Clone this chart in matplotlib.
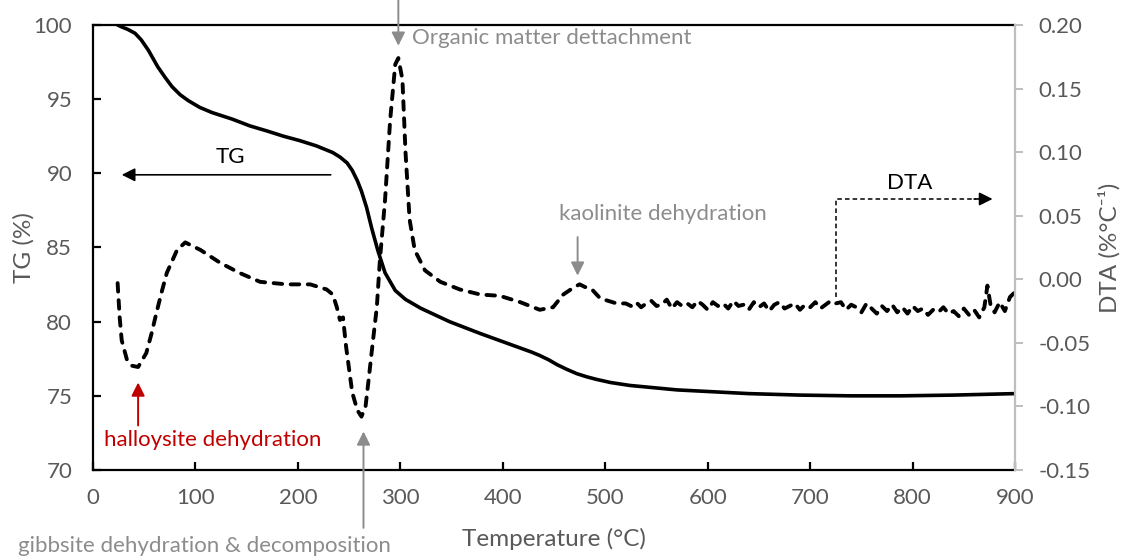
import matplotlib
matplotlib.use('Agg')
import matplotlib.pyplot as plt

plt.rcParams['font.family'] = ['Lato', 'DejaVu Sans']

# TG curve (%)
tg_temp = [24, 28, 34, 41, 47, 54, 63, 70, 77, 85, 93, 104, 116, 136, 153, 170, 186, 202, 218, 234, 241, 248,
           253, 258, 262, 267, 272, 278, 285, 295, 305, 320, 348, 378, 410, 428, 436, 445, 453, 462, 472,
           482, 492, 505, 524, 570, 640, 690, 740, 788, 840, 900]
tg = [100, 99.87, 99.7, 99.44, 99.0, 98.3, 97.2, 96.5, 95.85, 95.3, 94.9, 94.45, 94.1, 93.65, 93.2, 92.85,
      92.5, 92.2, 91.85, 91.4, 91.1, 90.7, 90.2, 89.5, 88.8, 87.7, 86.3, 84.8, 83.3, 82.1, 81.5, 80.9, 80.0,
      79.2, 78.4, 77.95, 77.72, 77.42, 77.1, 76.8, 76.5, 76.28, 76.1, 75.9, 75.7, 75.4, 75.15, 75.05, 75.0,
      75.0, 75.05, 75.15]

# DTA curve (%/°C)
dta_temp = [24, 26, 28, 33, 38, 44, 52, 57, 62, 67, 72, 82, 90, 105, 124, 143, 163, 189, 212, 228, 234, 238,
            241, 244, 247, 253, 258, 262, 266, 269, 273, 277, 280, 285, 290, 295, 298, 302, 305, 309, 314,
            324, 339, 358, 378, 397, 417, 436, 449, 459, 470, 475, 480, 487, 495, 503, 511,
            520, 525, 530, 535, 540, 545, 550, 555, 560, 565, 570, 575, 580, 585, 590, 595, 600, 605,
            610, 615, 620, 625, 630, 635, 640, 645, 650, 655, 660, 665, 670, 675, 680, 685, 690, 695,
            700, 705, 710, 715, 720, 725, 730, 735, 740, 745, 750, 755, 760, 765, 770, 775, 780, 785,
            790, 795, 800, 805, 810, 815, 820, 825, 830, 835, 840, 845, 850, 855, 860, 865, 870, 873,
            876, 880, 885, 890, 895, 900]
dta = [-0.003, -0.030, -0.048, -0.063, -0.068, -0.069, -0.058, -0.043, -0.026, -0.010, 0.005, 0.023, 0.029,
       0.023, 0.013, 0.005, -0.002, -0.004, -0.004, -0.008, -0.012, -0.022, -0.032, -0.030, -0.053, -0.089,
       -0.103, -0.108, -0.100, -0.079, -0.050, -0.022, 0.015, 0.062, 0.125, 0.169, 0.174, 0.157, 0.100, 0.047,
       0.023, 0.007, -0.002, -0.008, -0.012, -0.013, -0.018, -0.024, -0.022, -0.012, -0.006, -0.004, -0.006,
       -0.008, -0.015, -0.017, -0.019,
       -0.019, -0.021, -0.018, -0.022, -0.019, -0.017, -0.021, -0.020, -0.016, -0.023, -0.018, -0.021,
       -0.019, -0.022, -0.017, -0.020, -0.024, -0.018, -0.021, -0.019, -0.023, -0.017, -0.021, -0.020,
       -0.024, -0.018, -0.022, -0.019, -0.025, -0.020, -0.018, -0.023, -0.021, -0.019, -0.024, -0.020,
       -0.022, -0.018, -0.023, -0.020, -0.017, -0.019, -0.018, -0.024, -0.020, -0.022, -0.026, -0.019,
       -0.023, -0.027, -0.021, -0.025, -0.020, -0.026, -0.022, -0.027, -0.021, -0.025, -0.023, -0.028,
       -0.024, -0.026, -0.022, -0.027, -0.025, -0.029, -0.023, -0.028, -0.024, -0.030, -0.022, -0.005,
       -0.020, -0.026, -0.018, -0.025, -0.014, -0.010]

x_ticks = [0, 100, 200, 300, 400, 500, 600, 700, 800, 900]
tg_ticks = [70, 75, 80, 85, 90, 95, 100]
dta_ticks = [-0.15, -0.10, -0.05, 0.00, 0.05, 0.10, 0.15, 0.20]

grey = '#8c8c8c'
label_grey = '#595959'
fs = 16

fig = plt.figure(figsize=(11.29, 5.6), dpi=100)
ax = fig.add_axes([0.0824, 0.1607, 0.8167, 0.7947])
ax2 = ax.twinx()

ax.plot(tg_temp, tg, color='black', lw=2.6, solid_capstyle='round', solid_joinstyle='round')
ax2.plot(dta_temp, dta, color='black', lw=2.8, linestyle=(0, (2.2, 2.2)), dash_capstyle='round')

ax.set_xlim(0, 900)
ax.set_ylim(70, 100)
ax2.set_ylim(-0.15, 0.20)
ax.set_xticks(x_ticks)
ax.set_yticks(tg_ticks)
ax2.set_yticks(dta_ticks)
ax2.set_yticklabels(['%.2f' % v for v in dta_ticks])

for s in ['top', 'left', 'bottom']:
    ax.spines[s].set_linewidth(1.6)
    ax2.spines[s].set_visible(False)
ax.spines['right'].set_visible(False)
ax2.spines['right'].set_color('#bfbfbf')
ax2.spines['right'].set_linewidth(1.6)

ax.tick_params(axis='x', direction='in', length=6, width=1.6, labelsize=fs, labelcolor=label_grey, pad=13)
ax.tick_params(axis='y', direction='in', length=6, width=1.6, labelsize=fs, labelcolor=label_grey, pad=15)
ax2.tick_params(axis='y', direction='out', length=6, width=1.4, color='#bfbfbf', labelsize=fs,
                labelcolor=label_grey, pad=11)

ax.set_xlabel('Temperature (°C)', fontsize=17.5, color=label_grey)
ax.xaxis.set_label_coords(0.5, -0.13)
ax.set_ylabel('TG (%)', fontsize=17.5, color=label_grey)
ax.yaxis.set_label_coords(-0.063, 0.5)
ax2.set_ylabel('DTA (%°C⁻¹)', fontsize=17.5, color=label_grey)
ax2.yaxis.set_label_coords(1.09, 0.5)

# annotations
arrow_grey = dict(arrowstyle='-|>', color=grey, lw=1.4, mutation_scale=20, shrinkA=0, shrinkB=0)
arrow_red = dict(arrowstyle='-|>', color='#c00000', lw=1.4, mutation_scale=20, shrinkA=0, shrinkB=0)
arrow_black = dict(arrowstyle='-|>', color='black', lw=1.2, mutation_scale=20, shrinkA=0, shrinkB=0)

ax.annotate('', xy=(298, 98.6), xytext=(298, 101.7), arrowprops=arrow_grey, annotation_clip=False)
ax.text(311, 99.1, 'Organic matter dettachment', color=grey, fontsize=fs, ha='left', va='center')

ax.annotate('', xy=(473, 83.1), xytext=(473, 85.7), arrowprops=arrow_grey, annotation_clip=False)
ax.text(556, 87.25, 'kaolinite dehydration', color=grey, fontsize=fs, ha='center', va='center')

ax.annotate('', xy=(264, 72.6), xytext=(264, 66.1), arrowprops=arrow_grey, annotation_clip=False)
ax.text(109, 64.9, 'gibbsite dehydration & decomposition', color=grey, fontsize=fs, ha='center', va='center')

ax.annotate('', xy=(44, 75.9), xytext=(44, 73.0), arrowprops=arrow_red, annotation_clip=False)
ax.text(117, 72.0, 'halloysite dehydration', color='#c00000', fontsize=fs, ha='center', va='center')

ax.annotate('', xy=(28, 89.9), xytext=(232, 89.9), arrowprops=arrow_black)
ax.text(134, 91.1, 'TG', color='black', fontsize=fs, ha='center', va='center')

ax.plot([725, 725, 862], [81.66, 88.27, 88.27], color='black', lw=1.1, linestyle=(0, (3, 2)))
ax.annotate('', xy=(878, 88.27), xytext=(860, 88.27), arrowprops=arrow_black)
ax.text(797, 89.35, 'DTA', color='black', fontsize=fs, ha='center', va='center')

fig.savefig('out.png', dpi=100)
